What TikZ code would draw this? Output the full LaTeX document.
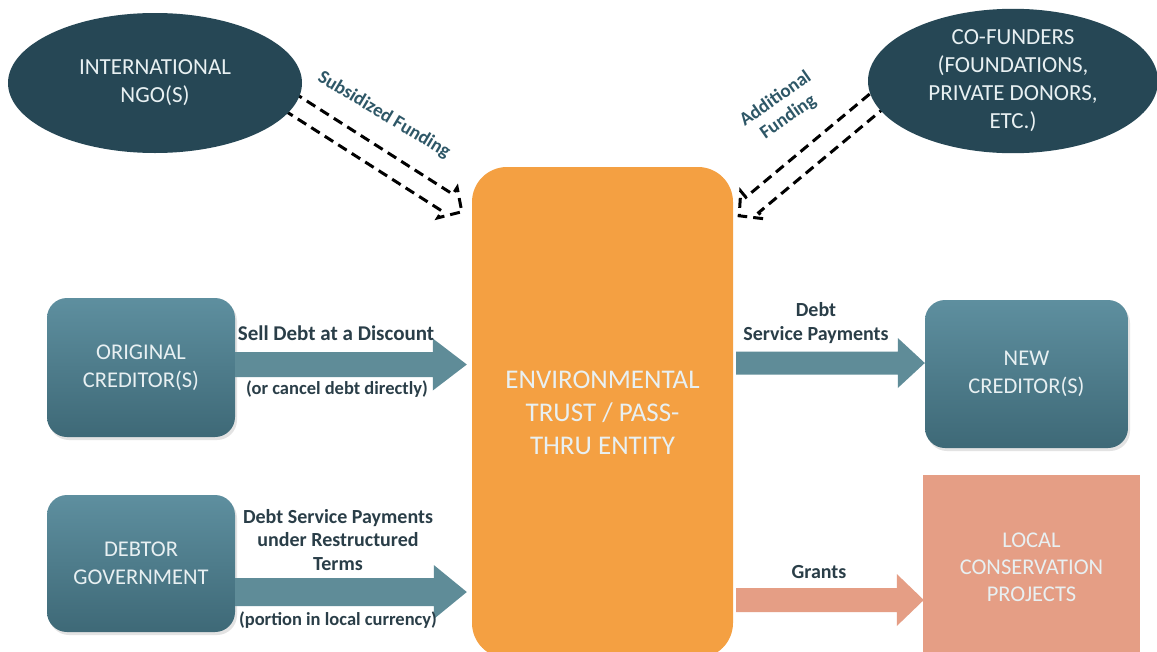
\documentclass[tikz,border=0pt]{standalone}
\usepackage{fontspec}
\setmainfont{Carlito}
\usetikzlibrary{shapes.geometric,calc,shadows}
\pgfdeclarelayer{back}
\pgfsetlayers{back,main}

\definecolor{inkdark}{HTML}{264755}
\definecolor{tealtop}{HTML}{5E8F9F}
\definecolor{tealbot}{HTML}{3E6977}
\definecolor{tealarrow}{HTML}{5F8C98}
\definecolor{trustorange}{HTML}{F4A042}
\definecolor{salmon}{HTML}{E59E85}
\definecolor{labelink}{HTML}{2A3E48}
\definecolor{fundink}{HTML}{2E5767}
\definecolor{paletext}{HTML}{E8F0F2}

% dashed outline of a block arrow from #1 to its tip #2; #3 names the head base
\newcommand\fundarrow[3]{%
  \coordinate (#3) at ($(#2)!17pt!(#1)$);
  \draw[fundline] ($(#1)!10pt!90:(#2)$) -- ($(#3)!10pt!-90:(#1)$)
    -- ($(#3)!18pt!-90:(#1)$) -- (#2) -- ($(#3)!18pt!90:(#1)$)
    -- ($(#3)!10pt!90:(#1)$) -- ($(#1)!10pt!-90:(#2)$);
}

\begin{document}
\begin{tikzpicture}[x=1pt,y=-1pt,
  oval/.style={ellipse, fill=inkdark, inner sep=0pt, align=center,
    text=paletext, font=\fontsize{23pt}{28pt}\selectfont},
  tealbox/.style={rectangle, rounded corners=20pt, top color=tealtop,
    bottom color=tealbot, inner sep=0pt, align=center, text=paletext,
    font=\fontsize{22.5pt}{28pt}\selectfont,
    drop shadow={opacity=0.22, shadow xshift=2pt, shadow yshift=-3pt}},
  flowlabel/.style={align=center, text=labelink, inner sep=0pt,
    font=\bfseries\fontsize{20pt}{23.5pt}\selectfont},
  fundlabel/.style={align=center, text=fundink, inner sep=0pt,
    font=\bfseries\fontsize{19pt}{22pt}\selectfont},
  fundline/.style={draw=black, line width=3pt, dash pattern=on 10pt off 6pt},
]
\useasboundingbox (0,0) rectangle (1157,651);
\clip (0,0) rectangle (1157,651);
\begin{pgfonlayer}{back}
  \fill[white] (0,0) rectangle (1157,651);
\end{pgfonlayer}

% funding sources
\node[oval, minimum width=294pt, minimum height=140pt] (ngo) at (155,83)
  {INTERNATIONAL\\NGO(S)};
\node[oval, minimum width=290pt, minimum height=134pt] (cof) at (1013,81)
  {CO-FUNDERS\\(FOUNDATIONS,\\PRIVATE DONORS,\\ETC.)};

% central entity
\node[rectangle, rounded corners=35pt, fill=trustorange, minimum width=261pt,
  minimum height=491pt, inner sep=0pt, align=center, text=paletext,
  font=\fontsize{27pt}{33pt}\selectfont] (trust) at (602.5,412.5)
  {ENVIRONMENTAL\\TRUST / PASS-\\THRU ENTITY};

% parties on the sides
\node[tealbox, minimum width=188pt, minimum height=139pt] (orig) at (141,367.5)
  {ORIGINAL\\CREDITOR(S)};
\node[tealbox, minimum width=188pt, minimum height=137pt] (debtor) at (141,563.5)
  {DEBTOR\\GOVERNMENT};
\node[tealbox, minimum width=203pt, minimum height=148pt] (newcred) at (1026.5,374)
  {NEW\\CREDITOR(S)};
\node[rectangle, fill=salmon, minimum width=217pt, minimum height=185pt,
  inner sep=0pt, align=center, text=paletext,
  font=\fontsize{22.5pt}{27pt}\selectfont] (local) at (1031.5,567.5)
  {LOCAL\\CONSERVATION\\PROJECTS};

% dashed funding arrows, kept under the ovals
\coordinate (tipL) at ($(trust.north west)+(-10,45)$);
\coordinate (tipR) at ($(trust.north east)+(6,49)$);
\begin{pgfonlayer}{back}
  \coordinate (ngoOut) at ($(ngo.-9)!-8pt!(tipL)$);
  \coordinate (cofOut) at ($(cof.189)!-8pt!(tipR)$);
  \fundarrow{ngoOut}{tipL}{headL}
  \fundarrow{cofOut}{tipR}{headR}
\end{pgfonlayer}
\node[fundlabel, rotate=-31] (subsid) at (384,115) {Subsidized Funding};
\node[fundlabel, rotate=35] (addit) at (782,108) {Additional\\Funding};

% block arrows between the parties
\fill[tealarrow] let \p1=(orig.east), \p2=(trust.west), \p3=(0,364.5) in
  (\x1,\y3+12.5pt) -- (\x2-39pt,\y3+12.5pt) -- (\x2-39pt,\y3+26pt)
  -- (\x2-5pt,\y3) -- (\x2-39pt,\y3-26pt) -- (\x2-39pt,\y3-12.5pt)
  -- (\x1,\y3-12.5pt) -- cycle;
\fill[tealarrow] let \p1=(debtor.east), \p2=(trust.west), \p3=(0,592) in
  (\x1,\y3+14pt) -- (\x2-38pt,\y3+14pt) -- (\x2-38pt,\y3+27pt)
  -- (\x2-5pt,\y3) -- (\x2-38pt,\y3-27pt) -- (\x2-38pt,\y3-14pt)
  -- (\x1,\y3-14pt) -- cycle;
\fill[tealarrow] let \p1=(trust.east), \p2=(newcred.west), \p3=(0,363) in
  (\x1+3pt,\y3+11.5pt) -- (\x2-27pt,\y3+11.5pt) -- (\x2-27pt,\y3+25pt)
  -- (\x2,\y3) -- (\x2-27pt,\y3-25pt) -- (\x2-27pt,\y3-11.5pt)
  -- (\x1+3pt,\y3-11.5pt) -- cycle;
\fill[salmon] let \p1=(trust.east), \p2=(local.west), \p3=(0,600) in
  (\x1+3pt,\y3+12pt) -- (\x2-26pt,\y3+12pt) -- (\x2-26pt,\y3+26pt)
  -- (\x2+1pt,\y3) -- (\x2-26pt,\y3-26pt) -- (\x2-26pt,\y3-12pt)
  -- (\x1+3pt,\y3-12pt) -- cycle;

% arrow captions
\node[flowlabel, font=\bfseries\fontsize{21pt}{24pt}\selectfont] (sell) at (336,333)
  {Sell Debt at a Discount};
\node[flowlabel, font=\bfseries\fontsize{18.5pt}{22pt}\selectfont] (cancel) at (337,389)
  {(or cancel debt directly)};
\node[flowlabel] (dsp) at (338,540) {Debt Service Payments\\under Restructured\\Terms};
\node[flowlabel, font=\bfseries\fontsize{18.5pt}{22pt}\selectfont] (portion) at (338,620)
  {(portion in local currency)};
\node[flowlabel] (newdsp) at (816,323) {Debt\\Service Payments};
\node[flowlabel] (grants) at (819,572) {Grants};
\end{tikzpicture}
\end{document}
